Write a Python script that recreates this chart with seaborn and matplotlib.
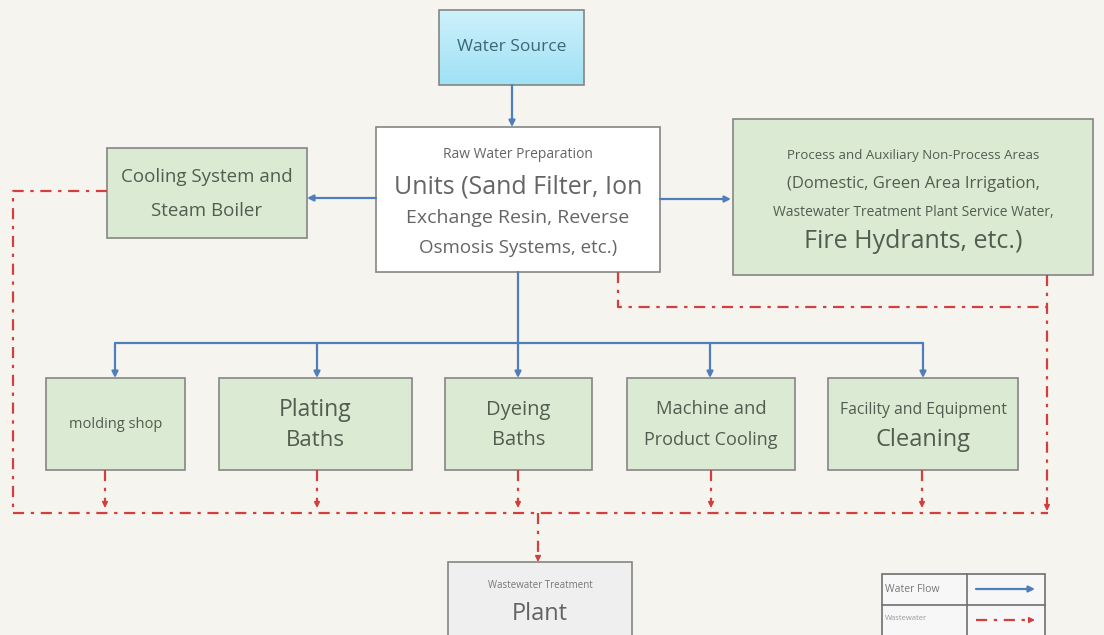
import numpy as np
import matplotlib.pyplot as plt
import seaborn as sns
from matplotlib.patches import Rectangle

# --- chart content ---
source_label = ["Water Source"]
prep_lines = ["Raw Water Preparation", "Units (Sand Filter, Ion",
              "Exchange Resin, Reverse", "Osmosis Systems, etc.)"]
cooling_lines = ["Cooling System and", "Steam Boiler"]
process_lines = ["Process and Auxiliary Non-Process Areas",
                 "(Domestic, Green Area Irrigation,",
                 "Wastewater Treatment Plant Service Water,",
                 "Fire Hydrants, etc.)"]
unit_labels = [["molding shop"], ["Plating", "Baths"], ["Dyeing", "Baths"],
               ["Machine and", "Product Cooling"],
               ["Facility and Equipment", "Cleaning"]]
plant_lines = ["Wastewater Treatment", "Plant"]
legend_labels = ["Water Flow", "Wastewater"]

# --- layout (pixel coords, y down) ---
unit_boxes = [(46, 185), (219, 412), (445, 592), (627, 795), (828, 1018)]
unit_top, unit_bot = 378, 470
unit_blue_x = [115, 317, 518, 710, 923]
unit_red_x = [105, 317, 518, 711, 922]
unit_sizes = [[10.5], [16.5, 16], [14.5, 14.5], [13.2, 13], [11.3, 17]]
unit_text_y = [[424], [410, 440], [410, 440], [409, 440], [410, 440]]

BLUE = "#4f7fba"
RED = "#d23f3c"
EDGE = "#858585"
GREEN = "#dbebd3"
TXT = "#535c50"
DASH = (0, (5, 3, 1.5, 3))

sns.set_theme(style="white")
plt.rcParams["font.family"] = ["Open Sans", "DejaVu Sans"]

fig = plt.figure(figsize=(11.04, 6.35), dpi=100, facecolor="#f6f4ef")
ax = fig.add_axes([0, 0, 1, 1])
ax.set_xlim(0, 1104)
ax.set_ylim(635, 0)
ax.axis("off")
ax.set_facecolor("#f6f4ef")


def box(x0, x1, y0, y1, fc, ec=EDGE, lw=1.2):
    ax.add_patch(Rectangle((x0, y0), x1 - x0, y1 - y0, facecolor=fc,
                           edgecolor=ec, lw=lw, zorder=2))


def txt(x, y, s, size, color=TXT, ha="center"):
    ax.text(x, y, s, fontsize=size, color=color, ha=ha, va="center", zorder=4)


def blue_arrow(p0, p1):
    ax.annotate("", xy=p1, xytext=p0, zorder=3,
                arrowprops=dict(arrowstyle="-|>", color=BLUE, lw=1.6,
                                mutation_scale=9, shrinkA=0, shrinkB=0))


def red_line(xs, ys):
    ax.plot(xs, ys, color=RED, lw=1.6, linestyle=DASH, zorder=3)


def red_head(x, y, dx=0, dy=1):
    ax.annotate("", xy=(x, y), xytext=(x - dx * 6, y - dy * 6), zorder=3,
                arrowprops=dict(arrowstyle="-|>", color=RED, lw=1.2,
                                mutation_scale=8, shrinkA=0, shrinkB=0))


# water source with gradient fill
grad = np.linspace(0, 1, 64).reshape(-1, 1)
ax.imshow(grad, extent=(439, 584, 85, 10), cmap=sns.blend_palette(
    ["#cdf1fb", "#9fe1f5"], as_cmap=True), aspect="auto", zorder=1)
ax.add_patch(Rectangle((439, 10), 145, 75, facecolor="none",
                       edgecolor=EDGE, lw=1.2, zorder=2))
txt(512, 47, source_label[0], 12.5, color="#3d6676")

# raw water preparation
box(376, 660, 127, 272, "#ffffff")
for y, s, fs in zip([155, 187, 218, 248], prep_lines, [10, 18, 14, 13.5]):
    txt(518, y, s, fs, color="#656565")

# cooling system
box(107, 307, 148, 238, GREEN)
for y, s in zip([177, 211], cooling_lines):
    txt(207, y, s, 13.5)

# process areas
box(733, 1093, 119, 275, GREEN)
for y, s, fs in zip([156, 184, 212, 241], process_lines, [9.5, 12, 10, 18]):
    txt(913, y, s, fs)

# unit boxes
for (x0, x1), labels, sizes, ys in zip(unit_boxes, unit_labels, unit_sizes, unit_text_y):
    box(x0, x1, unit_top, unit_bot, GREEN)
    for y, s, fs in zip(ys, labels, sizes):
        txt((x0 + x1) / 2, y, s, fs)

# wastewater treatment plant
box(448, 632, 562, 640, "#efefef")
txt(540, 586, plant_lines[0], 7, color="#777777")
txt(540, 614, plant_lines[1], 17, color="#636363")

# blue water flow
blue_arrow((512, 85), (512, 127))
blue_arrow((376, 198), (307, 198))
blue_arrow((660, 199), (731, 199))
ax.plot([518, 518], [272, 343], color=BLUE, lw=1.6, zorder=3)
ax.plot([unit_blue_x[0], unit_blue_x[-1]], [343, 343], color=BLUE, lw=1.6, zorder=3)
for x in unit_blue_x:
    blue_arrow((x, 343), (x, unit_top))

# red wastewater flow
red_line([107, 13, 13], [191, 191, 513])
red_line([13, 1048], [513, 513])
red_line([618, 618, 1047], [272, 307, 307])
red_line([1047, 1047], [275, 510])
red_head(1047, 511)
for x in unit_red_x:
    red_line([x, x], [unit_bot, 505])
    red_head(x, 508)
red_line([538, 538], [513, 556])
red_head(538, 562)

# legend
box(882, 1045, 574, 640, "#f7f7f7", ec="#6f6f6f", lw=1.2)
ax.plot([882, 1045], [605, 605], color="#6f6f6f", lw=1.2, zorder=3)
ax.plot([967, 967], [574, 640], color="#6f6f6f", lw=1.2, zorder=3)
txt(885, 590, legend_labels[0], 7.5, color="#777777", ha="left")
txt(885, 619, legend_labels[1], 5.5, color="#999999", ha="left")
blue_arrow((976, 589), (1035, 589))
red_line([976, 1027], [620, 620])
red_head(1035, 620, dx=1, dy=0)

fig.savefig("out.png", dpi=100, facecolor=fig.get_facecolor())
